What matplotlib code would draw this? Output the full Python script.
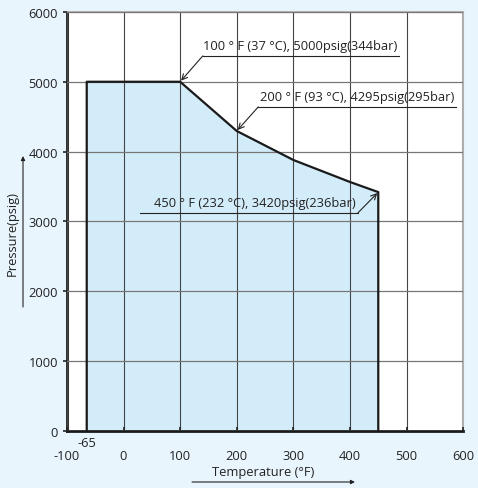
import matplotlib.pyplot as plt

# temperature (F) vs max pressure (psig)
temps = [-65, -65, 100, 200, 300, 400, 450, 450]
pressures = [0, 5000, 5000, 4295, 3880, 3565, 3420, 0]

x_ticks = [-100, 0, 100, 200, 300, 400, 500, 600]
y_ticks = [0, 1000, 2000, 3000, 4000, 5000, 6000]

notes = ["100 ° F (37 °C), 5000psig(344bar)",
         "200 ° F (93 °C), 4295psig(295bar)",
         "450 ° F (232 °C), 3420psig(236bar)"]
note_points = [(100, 5000), (200, 4295), (450, 3420)]

plt.rcParams['font.family'] = ['Open Sans', 'DejaVu Sans']
plt.rcParams['axes.unicode_minus'] = False
fs = 9.3

bg = '#e9f5fd'
fig = plt.figure(figsize=(4.78, 4.89), dpi=100, facecolor=bg)
ax = fig.add_axes([0.140, 0.1166, 0.829, 0.857])
ax.set_facecolor('white')

ax.fill(temps, pressures, color='#d3ecfa', zorder=1)
ax.plot(temps, pressures, color='#1a1a1a', lw=1.6, zorder=3)

ax.set_xlim(-100, 600)
ax.set_ylim(0, 6000)
ax.set_xticks(x_ticks)
ax.set_yticks(y_ticks)
ax.grid(True, axis='x', color='#444444', lw=0.8, zorder=2)
ax.grid(True, axis='y', color='#777777', lw=0.9, zorder=2)
ax.set_axisbelow(False)

for s in ['left', 'bottom']:
    ax.spines[s].set_linewidth(2)
    ax.spines[s].set_color('#1a1a1a')
for s in ['top', 'right']:
    ax.spines[s].set_linewidth(1.5)
    ax.spines[s].set_color('#b0b0b0')

ax.tick_params(axis='x', direction='in', length=3, width=1.2, labelsize=fs,
               pad=13, colors='#222222')
ax.tick_params(axis='y', direction='out', length=3, width=1.2, labelsize=fs,
               colors='#222222')
ax.text(-65, -70, '-65', ha='center', va='top', fontsize=fs, color='#222222')

# annotations: text sitting on an underline, arrow from underline end to the point
lines = [(140, 487, 5370), (238, 588, 4640), (29, 414, 3122)]
arrow_from = [(140, 5370), (238, 4640), (414, 3122)]
for txt, (x0, x1, yl), start, pt in zip(notes, lines, arrow_from, note_points):
    ax.plot([x0, x1], [yl, yl], color='#222222', lw=0.8, zorder=4)
    ax.text(x1 - 3, yl + 50, txt, ha='right', va='bottom',
            fontsize=fs, color='#222222', zorder=5)
    ax.annotate('', xy=pt, xytext=start,
                arrowprops=dict(arrowstyle='->', color='#222222', lw=0.8,
                                shrinkA=0, shrinkB=1), zorder=5)

# axis labels with arrows
fig.text(263 / 478, 1 - 473 / 489, 'Temperature (°F)', ha='center', va='center',
         fontsize=fs, color='#222222')
fig.text(12 / 478, 1 - 233 / 489, 'Pressure(psig)', ha='center', va='center',
         rotation=90, fontsize=fs, color='#222222')
ax.annotate('', xy=(355, 489 - 483), xytext=(192, 489 - 483), xycoords='figure pixels',
            textcoords='figure pixels',
            arrowprops=dict(arrowstyle='-|>', color='#222222', lw=0.8,
                            mutation_scale=6, shrinkA=0, shrinkB=0))
ax.annotate('', xy=(23, 489 - 157), xytext=(23, 489 - 308), xycoords='figure pixels',
            textcoords='figure pixels',
            arrowprops=dict(arrowstyle='-|>', color='#222222', lw=0.8,
                            mutation_scale=6, shrinkA=0, shrinkB=0))

fig.savefig('out.png', dpi=100, facecolor=bg)
